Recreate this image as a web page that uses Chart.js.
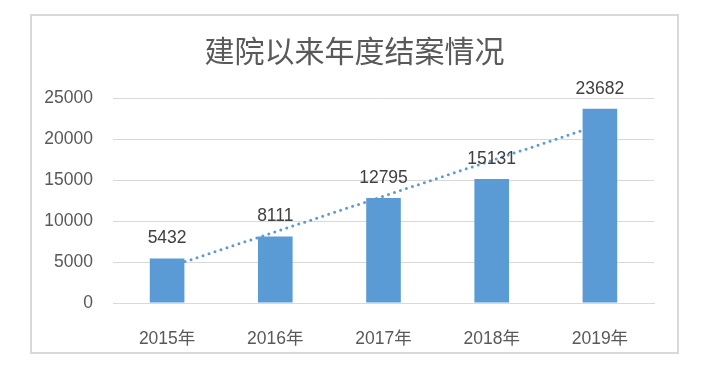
<!DOCTYPE html>
<html>
<head>
<meta charset="utf-8">
<script src="https://cdn.jsdelivr.net/npm/chart.js@4"></script>
<style>
  body { margin: 0; background: #fff; width: 702px; height: 373px; overflow: hidden; }
  #frame { position: absolute; left: 30px; top: 14px; width: 645px; height: 336px; border: 2px solid #d9d9d9; }
</style>
</head>
<body>
<div id="frame"><canvas id="chart" width="645" height="336"></canvas></div>
<script>
// 年份与结案数
const years = ["2015年", "2016年", "2017年", "2018年", "2019年"];
const cases = [5432, 8111, 12795, 15131, 23682];
// 线性趋势线
const trend = [4326, 8678, 13030, 17382, 21734];
const yTicks = [0, 5000, 10000, 15000, 20000, 25000];
const chartTitle = "建院以来年度结案情况";

const fontFamily = "'Liberation Sans', 'Noto Sans CJK SC', sans-serif";

// 标题居中于整个图框 + 柱顶数值标签
const labelsPlugin = {
  id: "labelsPlugin",
  afterDatasetsDraw(chart) {
    const ctx = chart.ctx;
    ctx.save();
    ctx.font = "30px 'Noto Sans CJK SC', sans-serif";
    ctx.fillStyle = "#595959";
    ctx.textAlign = "center";
    ctx.textBaseline = "middle";
    ctx.fillText(chartTitle, chart.width / 2, 35);

    ctx.font = "17.5px " + fontFamily;
    ctx.fillStyle = "#404040";
    const meta = chart.getDatasetMeta(0);
    meta.data.forEach((bar, i) => {
      ctx.fillText(String(cases[i]), bar.x, bar.y - 20);
    });
    ctx.restore();
  }
};

new Chart(document.getElementById("chart").getContext("2d"), {
  data: {
    labels: years,
    datasets: [
      {
        type: "bar",
        data: cases,
        backgroundColor: "#5B9BD5",
        barPercentage: 0.32,
        categoryPercentage: 1,
        order: 1
      },
      {
        type: "line",
        data: trend,
        borderColor: "#5B9BD5",
        borderWidth: 3,
        borderDash: [0, 6.3],
        borderCapStyle: "round",
        pointRadius: 0,
        fill: false,
        tension: 0,
        order: 2
      }
    ]
  },
  options: {
    responsive: false,
    animation: false,
    events: [],
    layout: { padding: { left: 0, right: 23, top: 82, bottom: 0 } },
    plugins: {
      legend: { display: false },
      tooltip: { enabled: false },
      title: { display: false }
    },
    scales: {
      x: {
        grid: { display: false },
        border: { display: true, color: "#d9d9d9", width: 1 },
        ticks: { color: "#595959", font: { family: fontFamily, size: 17.5 }, padding: 18 },
        afterFit(scale) { scale.height = 49; }
      },
      y: {
        min: 0,
        max: 25000,
        afterBuildTicks(scale) { scale.ticks = yTicks.map(v => ({ value: v })); },
        grid: { color: "#d9d9d9", lineWidth: 1, drawTicks: false },
        border: { display: false },
        ticks: {
          color: "#595959",
          font: { family: fontFamily, size: 17.5 },
          padding: 20,
          callback: v => String(v)
        },
        afterFit(scale) { scale.width = 81; }
      }
    }
  },
  plugins: [labelsPlugin]
});
</script>
</body>
</html>
